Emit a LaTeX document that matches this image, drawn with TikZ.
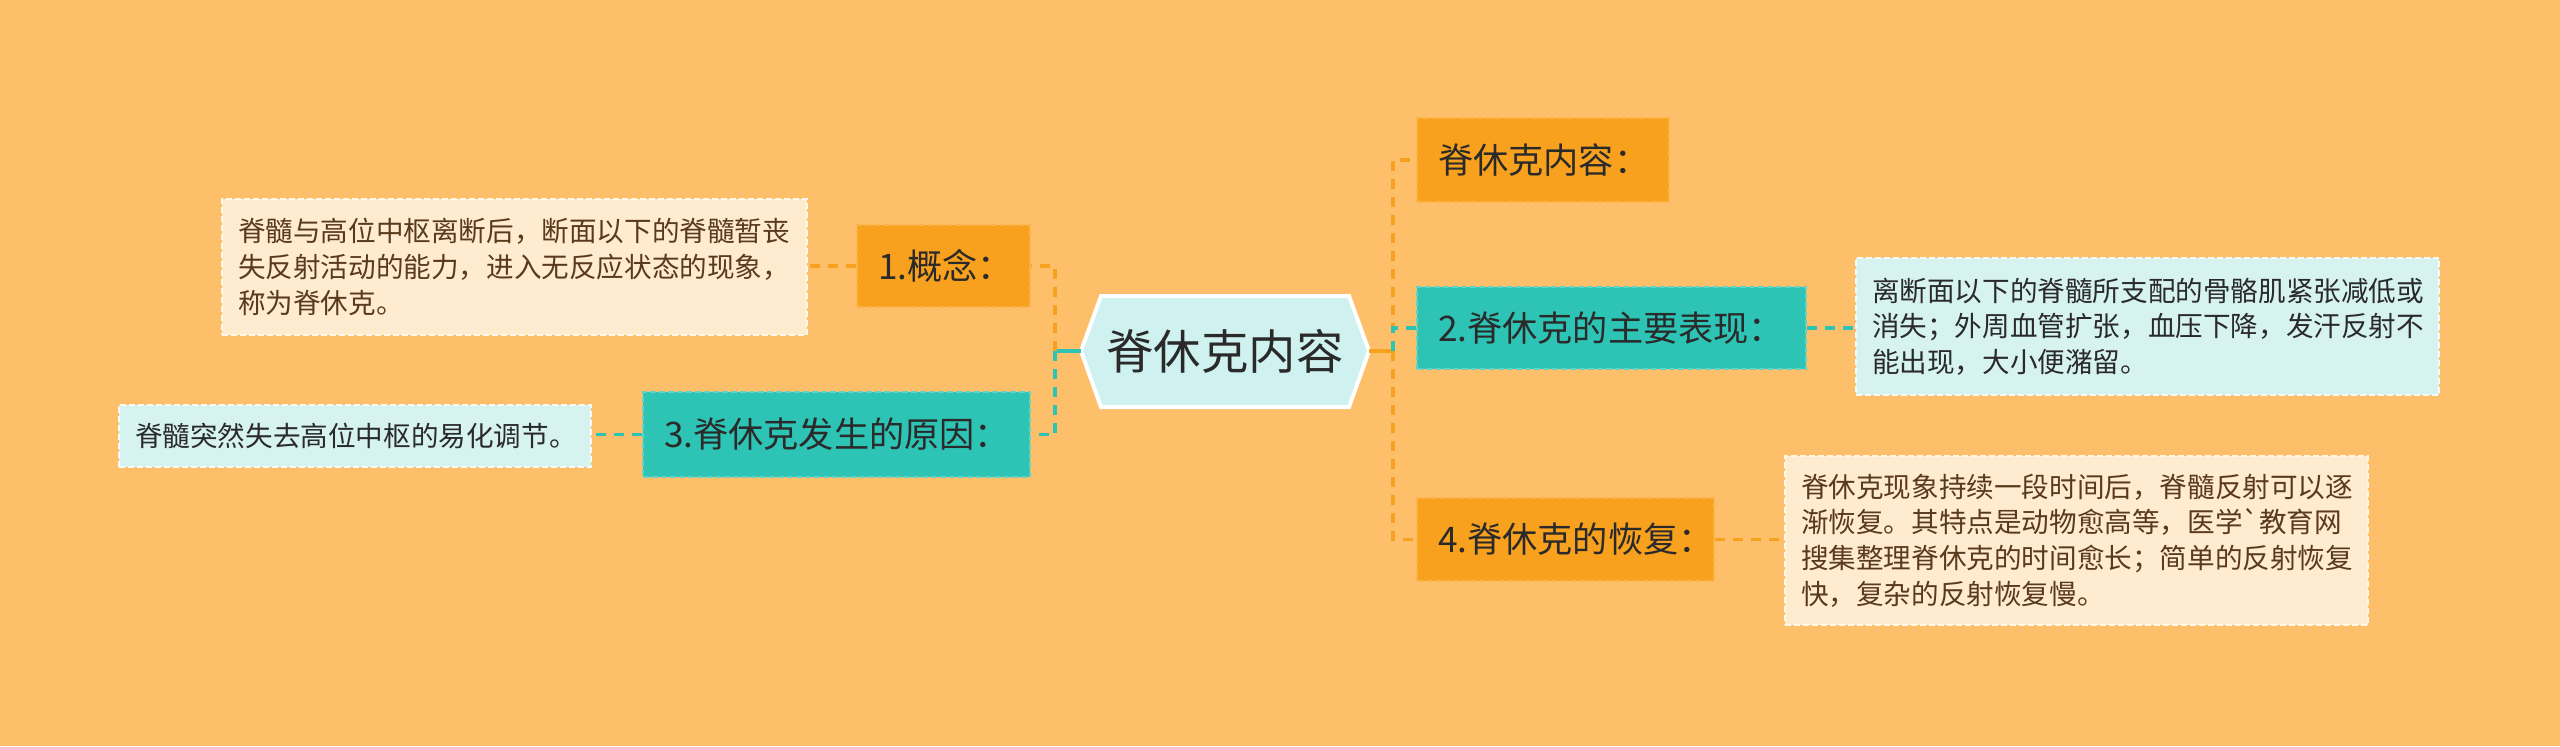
\documentclass[tikz,border=0pt]{standalone}
\usepackage{fontspec}
\newfontfamily\cjk{Noto Sans CJK SC}
\definecolor{bg}{HTML}{FEBF6B}
\definecolor{orangeC}{HTML}{F8A11E}
\definecolor{orangeB}{HTML}{FCB448}
\definecolor{tealC}{HTML}{2EC4B5}
\definecolor{tealB}{HTML}{62D2C7}
\definecolor{cream}{HTML}{FEEBD0}
\definecolor{creamB}{HTML}{FFF7EA}
\definecolor{cyanL}{HTML}{D6F3F0}
\definecolor{cyanB}{HTML}{F3FCFB}
\definecolor{cfill}{HTML}{CFF1EF}
\definecolor{brownT}{HTML}{5A3A1C}
\definecolor{darkT}{HTML}{2A2A2A}
\begin{document}
\begin{tikzpicture}[x=0.5pt,y=-0.5pt,
  lvl/.style={font=\cjk\fontsize{17.6}{21}\selectfont, text=darkT, align=left,
    inner xsep=10.5pt, inner ysep=0pt, draw, dash pattern=on 3pt off 1.5pt, line width=1.2pt},
  orgbox/.style={lvl, fill=orangeC, draw=orangeB},
  tealbox/.style={lvl, fill=tealC, draw=tealB},
  note/.style={font=\cjk\fontsize{13.8}{17.8}\selectfont, align=left,
    inner xsep=8pt, inner ysep=0pt, draw, dash pattern=on 3pt off 1.5pt, line width=1.2pt},
  creamnote/.style={note, fill=cream, draw=creamB, text=brownT},
  cyannote/.style={note, fill=cyanL, draw=cyanB, text=darkT},
  odash/.style={draw=orangeC, line width=1.8pt, dash pattern=on 5pt off 4pt},
  tdash/.style={draw=tealC, line width=1.8pt, dash pattern=on 5pt off 4pt},
  osolid/.style={draw=orangeC, line width=1.8pt},
  tsolid/.style={draw=tealC, line width=1.8pt}]
\fill[bg] (0,0) rectangle (2560,746);
\useasboundingbox (0,0) rectangle (2560,746);

% central hexagon
\filldraw[fill=cfill, draw=white, line width=2pt]
  (1081,351) -- (1101,296) -- (1349,296) -- (1369,351) -- (1349,407) -- (1101,407) -- cycle;
\node[font=\cjk\fontsize{23.7}{28}\selectfont, text=darkT] (root) at (1225,351) {脊休克内容};
\coordinate (rootW) at (1081,351);
\coordinate (rootE) at (1369,351);
\coordinate (jl) at (1055,351);
\coordinate (jr) at (1393,351);

% level boxes
\node[orgbox, text width=105pt, minimum height=42pt] (c0) at (1543,160) {脊休克内容：};
\node[tealbox, text width=173.5pt, minimum height=41pt] (c2) at (1611.5,328) {2.脊休克的主要表现：};
\node[orgbox, text width=127.5pt, minimum height=41.5pt] (c4) at (1565.5,539.5) {4.脊休克的恢复：};
\node[orgbox, text width=65.5pt, minimum height=41pt] (c1) at (943.5,266) {1.概念：};
\node[tealbox, text width=172.5pt, minimum height=42.5pt] (c3) at (836.5,434.5) {3.脊休克发生的原因：};

% notes
\node[creamnote, text width=276.5pt, minimum height=68pt] (t1) at (514.5,267)
  {脊髓与高位中枢离断后，断面以下的脊髓暂丧\\失反射活动的能力，进入无反应状态的现象，\\称为脊休克。};
\node[cyannote, text width=220pt, minimum height=31pt] (t3) at (355,436)
  {脊髓突然失去高位中枢的易化调节。};
\node[cyannote, text width=275.5pt, minimum height=68.5pt] (t2) at (2147.5,326.5)
  {离断面以下的脊髓所支配的骨骼肌紧张减低或\\消失；外周血管扩张，血压下降，发汗反射不\\能出现，大小便潴留。};
\node[creamnote, text width=275.5pt, minimum height=84.5pt] (t4) at (2076.5,540.5)
  {脊休克现象持续一段时间后，脊髓反射可以逐\\渐恢复。其特点是动物愈高等，医学`教育网\\搜集整理脊休克的时间愈长；简单的反射恢复\\快，复杂的反射恢复慢。};

% connectors
\draw[tsolid] (rootW) -- (jl);
\draw[osolid] (rootE) -- (jr);
\draw[odash] (jl) |- (c1.east);
\draw[tdash] (jl) |- (c3.east);
\draw[odash] (jr) |- (c0.west);
\draw[tdash] (jr) |- (c2.west);
\draw[odash] (jr) |- (c4.west);
\draw[odash] (c1.west) -- (c1.west -| t1.east);
\draw[tdash] (c3.west) -- (c3.west -| t3.east);
\draw[tdash] (c2.east) -- (c2.east -| t2.west);
\draw[odash] (c4.east) -- (c4.east -| t4.west);
\end{tikzpicture}
\end{document}
